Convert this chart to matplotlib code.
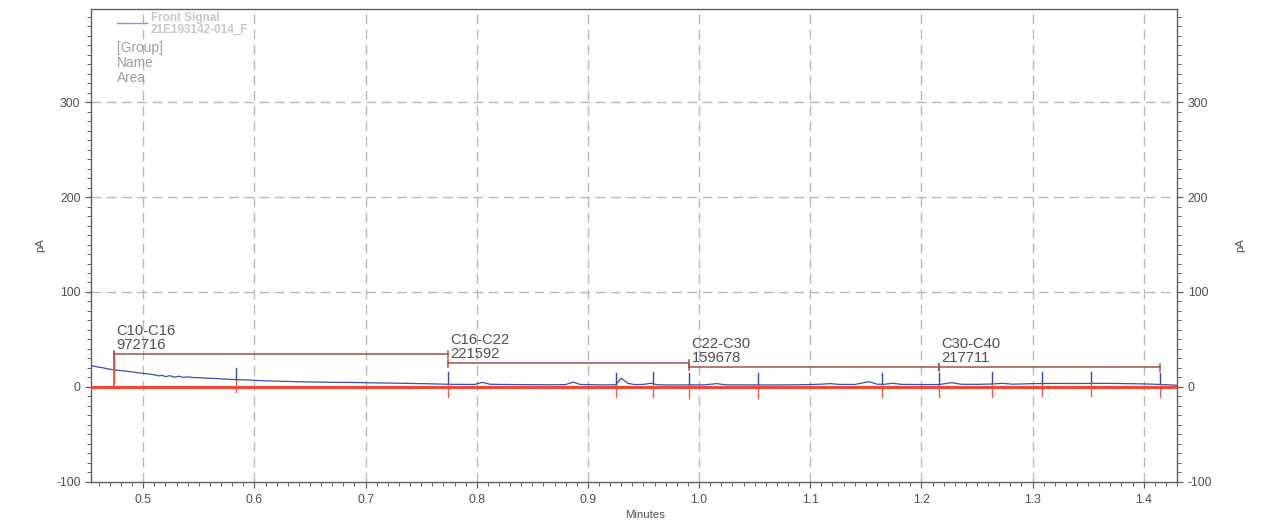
import matplotlib
matplotlib.use("Agg")
import matplotlib.pyplot as plt
from matplotlib.ticker import MultipleLocator

plt.rcParams['font.family'] = ['Liberation Sans', 'DejaVu Sans']
plt.rcParams['axes.unicode_minus'] = False

# Detector trace (minutes, pA)
time_min = [0.453, 0.458, 0.463, 0.468, 0.4736, 0.480, 0.487, 0.493, 0.499, 0.505,
            0.510, 0.514, 0.517, 0.520, 0.524, 0.528, 0.532, 0.536, 0.540, 0.545,
            0.550, 0.556, 0.563, 0.570, 0.577, 0.584, 0.595, 0.605, 0.615, 0.630,
            0.645, 0.660, 0.675, 0.690, 0.705, 0.720, 0.735, 0.750, 0.765, 0.774,
            0.785, 0.798, 0.805, 0.812, 0.830, 0.850, 0.870, 0.880, 0.887, 0.893,
            0.910, 0.925, 0.930, 0.936, 0.942, 0.950, 0.957, 0.962, 0.975, 0.991,
            1.005, 1.016, 1.024, 1.040, 1.060, 1.080, 1.100, 1.110, 1.118, 1.126,
            1.140, 1.153, 1.160, 1.166, 1.174, 1.182, 1.200, 1.216, 1.227, 1.236,
            1.250, 1.263, 1.273, 1.282, 1.300, 1.320, 1.340, 1.360, 1.380, 1.400,
            1.415, 1.430]
signal_pa = [22.4, 21.2, 20.2, 19.0, 17.8, 17.2, 16.2, 15.2, 14.3, 13.5,
             12.7, 11.5, 12.2, 10.7, 11.8, 10.2, 11.2, 10.0, 10.5, 9.8,
             9.7, 9.2, 8.9, 8.4, 8.0, 7.6, 7.2, 6.6, 6.2, 5.7,
             5.2, 5.0, 4.7, 4.6, 4.2, 4.0, 3.7, 3.4, 3.0, 2.7,
             2.6, 2.5, 4.7, 2.7, 2.4, 2.3, 2.2, 2.4, 5.0, 2.5,
             2.1, 2.2, 9.1, 3.7, 2.4, 2.6, 3.8, 2.2, 2.0, 2.1,
             2.1, 3.4, 2.1, 2.1, 2.0, 2.1, 2.4, 2.8, 3.4, 2.6,
             2.5, 5.4, 2.8, 2.6, 3.8, 2.6, 2.4, 2.4, 4.4, 2.7,
             2.6, 3.0, 3.7, 2.8, 3.4, 3.6, 3.5, 3.7, 3.5, 3.1,
             2.5, 1.7]

# Integration events: time and trace level at each event
event_time = [0.4736, 0.5834, 0.7744, 0.9253, 0.9583, 0.9912, 1.0527,
              1.1648, 1.2158, 1.2638, 1.3088, 1.3528, 1.4146]
event_level = [17.8, 7.6, 2.7, 2.4, 2.9, 2.1, 2.0,
               2.6, 2.4, 3.0, 3.4, 3.6, 2.5]

# Carbon-range groups
group_names = ['C10-C16', 'C16-C22', 'C22-C30', 'C30-C40']
group_areas = [972716, 221592, 159678, 217711]
group_start = [0.4736, 0.7744, 0.9912, 1.2158]
group_end = [0.7744, 0.9912, 1.2158, 1.4146]
group_level = [34.3, 24.8, 20.9, 20.6]

x_ticks = [0.5, 0.6, 0.7, 0.8, 0.9, 1.0, 1.1, 1.2, 1.3, 1.4]
x_tick_labels = ['0.5', '0.6', '0.7', '0.8', '0.9', '1.0', '1.1', '1.2', '1.3', '1.4']
y_ticks = [-100, 0, 100, 200, 300]

W, H = 1272, 529
fig = plt.figure(figsize=(W / 100, H / 100), dpi=100)
ax = fig.add_axes([91 / W, 1 - 481.7 / H, (1177.3 - 91) / W, (481.7 - 9.3) / H])

ax.set_xlim(0.453, 1.4302)
ax.set_ylim(-100, 398)

axis_grey = '#606060'
text_grey = '#505050'
for side in ['left', 'right', 'top', 'bottom']:
    ax.spines[side].set_color(axis_grey)
    ax.spines[side].set_linewidth(1.0)

ax.set_xticks(x_ticks)
ax.set_xticklabels(x_tick_labels)
ax.set_yticks(y_ticks)
ax.xaxis.set_minor_locator(MultipleLocator(0.01))
ax.yaxis.set_minor_locator(MultipleLocator(10))
ax.tick_params(axis='both', which='both', direction='out', colors=axis_grey,
               labelcolor=text_grey, labelsize=8.8)
ax.tick_params(axis='both', which='major', length=4.5, width=0.9)
ax.tick_params(axis='both', which='minor', length=3.0, width=0.7)
ax.tick_params(axis='y', which='both', left=True, right=True,
               labelleft=True, labelright=True, pad=3)
ax.tick_params(axis='x', which='both', top=False, pad=4)

# Dashed grid
grid_kw = dict(color='#bababa', linewidth=1.0, dashes=(7, 4), zorder=0)
for xv in x_ticks:
    ax.axvline(xv, **grid_kw)
for yv in [100, 200, 300]:
    ax.axhline(yv, **grid_kw)

# Baseline
ax.axhline(0, color='#f04a36', linewidth=2.3, zorder=3)

# Trace
ax.plot(time_min, signal_pa, color='#3f4fae', linewidth=0.9, zorder=4)

# Event ticks around the trace
tick_up, tick_down = 12.5, 13.5
for t, lv in zip(event_time, event_level):
    ax.plot([t, t], [lv, lv + tick_up], color='#3a48a8', linewidth=1.0, zorder=5)
    ax.plot([t, t], [lv - tick_down, lv], color='#f05a48', linewidth=1.0, zorder=5)

# Start marker of the first group
ax.plot([group_start[0], group_start[0]], [0, group_level[0] + 2.6],
        color='#f04a36', linewidth=1.2, zorder=5)

# Group brackets with labels
bracket_color = '#a4524a'
cap = 3.6
for name, area, s, e, lv in zip(group_names, group_areas, group_start,
                                group_end, group_level):
    ax.plot([s, e], [lv, lv], color=bracket_color, linewidth=1.1, zorder=6)
    ax.plot([s, s], [lv - cap, lv + cap], color=bracket_color, linewidth=1.1, zorder=6)
    ax.plot([e, e], [lv - cap, lv + cap], color=bracket_color, linewidth=1.1, zorder=6)
    ax.annotate(f'{name}\n{area}', xy=(s, lv), xytext=(1.6, 1.5),
                textcoords='offset points', ha='left', va='bottom',
                fontsize=10.6, color=text_grey, linespacing=1.02, zorder=7)

# Legend block
ax.plot([117, 147], [H - 22.5, H - 22.5], transform=None, color='#8a96cc',
        linewidth=1.0, zorder=8, clip_on=False)
fig.text(151 / W, 1 - 18 / H, 'Front Signal', fontsize=8.5, fontweight='bold',
         color='#c8c8c8', ha='left', va='center')
fig.text(151 / W, 1 - 30 / H, '21E193142-014_F', fontsize=8.5, fontweight='bold',
         color='#c8c8c8', ha='left', va='center')
for i, lab in enumerate(['[Group]', 'Name', 'Area']):
    fig.text(117 / W, 1 - (48 + 15 * i) / H, lab, fontsize=9.9,
             color='#a0a0a0', ha='left', va='center')

# Axis titles
fig.text(645 / W, 1 - 515 / H, 'Minutes', fontsize=8.2, color=text_grey,
         ha='center', va='center')
fig.text(40 / W, 1 - 245 / H, 'pA', fontsize=8.2, color=text_grey,
         ha='center', va='center', rotation=90)
fig.text(1240 / W, 1 - 245 / H, 'pA', fontsize=8.2, color=text_grey,
         ha='center', va='center', rotation=90)

fig.savefig('out.png', dpi=100)
